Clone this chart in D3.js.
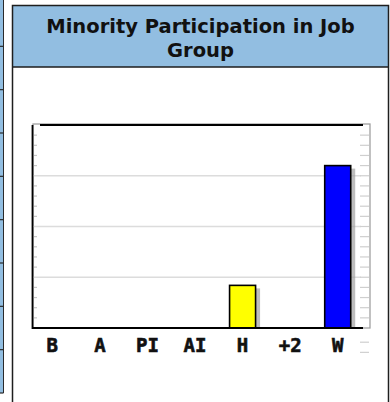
<!DOCTYPE html>
<html>
<head>
<meta charset="utf-8">
<script src="https://cdn.jsdelivr.net/npm/d3@7"></script>
<style>
  html, body { margin: 0; padding: 0; background: #fff; }
  svg { display: block; }
</style>
</head>
<body>
<svg id="chart" width="390" height="402"></svg>
<script>
// Job group categories and participation values (percent)
const categories = ["B", "A", "PI", "AI", "H", "+2", "W"];
const values = [0, 0, 0, 0, 21, 0, 80];
const barColors = ["#000000", "#000000", "#000000", "#000000", "#ffff00", "#000000", "#0000ff"];
const titleLines = ["Minority Participation in Job", "Group"];
const majorTicks = [25, 50, 75];
const minorTicks = [5, 10, 15, 20, 30, 35, 40, 45, 55, 60, 65, 70, 80, 85, 90, 95];
const rightExtraTicks = [-7, -12];

const W = 390, H = 402;
const headerBlue = "#92bee1";
const svg = d3.select("#chart");

// Side strip of table cells at the far left
const stripRows = d3.range(0, 10);
const rowScale = d3.scaleLinear().domain([0, 9]).range([3, 393]);
svg.append("rect").attr("x", 0).attr("y", 0).attr("width", 3.5).attr("height", 393).attr("fill", headerBlue);
svg.append("line").attr("x1", 3.5).attr("x2", 3.5).attr("y1", 0).attr("y2", 393)
  .attr("stroke", "#2a2a2a").attr("stroke-width", 1);
svg.selectAll("line.strip").data(stripRows.slice(1)).join("line")
  .attr("class", "strip")
  .attr("x1", 0).attr("x2", 3.5)
  .attr("y1", d => rowScale(d)).attr("y2", d => rowScale(d))
  .attr("stroke", "#2a2a2a").attr("stroke-width", 1.2);

// Panel with header
const panel = { x: 12.5, y: 5.5, right: 388.5, headerBottom: 67 };
svg.append("rect").attr("x", panel.x).attr("y", panel.y)
  .attr("width", panel.right - panel.x).attr("height", panel.headerBottom - panel.y)
  .attr("fill", headerBlue);
svg.append("path")
  .attr("d", `M${panel.x},${H} V${panel.y} H${panel.right} V${H} M${panel.x},${panel.headerBottom} H${panel.right}`)
  .attr("fill", "none").attr("stroke", "#1e1e1e").attr("stroke-width", 1.5);

const title = svg.append("text")
  .attr("text-anchor", "middle")
  .attr("font-family", "'DejaVu Sans', Verdana, sans-serif")
  .attr("font-weight", "bold")
  .attr("font-size", 19.5)
  .attr("fill", "#111");
title.selectAll("tspan").data(titleLines).join("tspan")
  .attr("x", (panel.x + panel.right) / 2)
  .attr("y", (d, i) => 33 + i * 23.5)
  .text(d => d);

// Plot scales
const plot = { left: 32, right: 363, top: 125, bottom: 328 };
const x = d3.scaleBand().domain(categories).range([30, 363]);
const y = d3.scaleLinear().domain([0, 100]).range([plot.bottom, plot.top]);

// Back wall frame
svg.append("rect")
  .attr("x", 33).attr("y", 124)
  .attr("width", 370 - 33).attr("height", plot.bottom - 124)
  .attr("fill", "none").attr("stroke", "#a0a0a0").attr("stroke-width", 1.3);

// Horizontal grid lines
svg.selectAll("line.grid").data(majorTicks).join("line")
  .attr("class", "grid")
  .attr("x1", 33).attr("x2", 361)
  .attr("y1", d => y(d)).attr("y2", d => y(d))
  .attr("stroke", "#dcdcdc").attr("stroke-width", 1.3);

// Minor ticks, left and right
svg.selectAll("line.ltick").data(minorTicks).join("line")
  .attr("class", "ltick")
  .attr("x1", 33).attr("x2", 37)
  .attr("y1", d => y(d)).attr("y2", d => y(d))
  .attr("stroke", "#c8c8c8").attr("stroke-width", 1.2);
svg.selectAll("line.rtick").data(minorTicks.concat(majorTicks, rightExtraTicks)).join("line")
  .attr("class", "rtick")
  .attr("x1", 360).attr("x2", 369)
  .attr("y1", d => y(d)).attr("y2", d => y(d))
  .attr("stroke", "#cfcfcf").attr("stroke-width", 1.2);

// Bars with drop shadows
const barW = 26;
const bars = categories.map((c, i) => ({ c, v: values[i], color: barColors[i] })).filter(d => d.v > 0);
svg.selectAll("rect.shadow").data(bars).join("rect")
  .attr("class", "shadow")
  .attr("x", d => x(d.c) + x.bandwidth() / 2 - 14.5 + barW)
  .attr("y", d => y(d.v) + 3)
  .attr("width", 4.5)
  .attr("height", d => plot.bottom - y(d.v) - 3)
  .attr("fill", "#9a9a9a").attr("fill-opacity", 0.65);
svg.selectAll("rect.bar").data(bars).join("rect")
  .attr("class", "bar")
  .attr("x", d => x(d.c) + x.bandwidth() / 2 - 14.5)
  .attr("y", d => y(d.v))
  .attr("width", barW)
  .attr("height", d => plot.bottom - y(d.v))
  .attr("fill", d => d.color)
  .attr("stroke", "#000").attr("stroke-width", 1.6);

// Front axis lines
svg.append("path")
  .attr("d", `M${plot.left + 8},${plot.top} H${plot.right} M${plot.left + 0.5},${plot.top} V${plot.bottom} H${plot.right}`)
  .attr("fill", "none").attr("stroke", "#000").attr("stroke-width", 1.8);

// Category labels
svg.selectAll("text.cat").data(categories).join("text")
  .attr("class", "cat")
  .attr("x", d => x(d) + x.bandwidth() / 2 - 1.5)
  .attr("y", 351.5)
  .attr("text-anchor", "middle")
  .attr("font-family", "'DejaVu Sans Mono', monospace")
  .attr("font-weight", "bold")
  .attr("font-size", 19)
  .attr("fill", "#111")
  .attr("stroke", "#111")
  .attr("stroke-width", 0.6)
  .text(d => d);
</script>
</body>
</html>
